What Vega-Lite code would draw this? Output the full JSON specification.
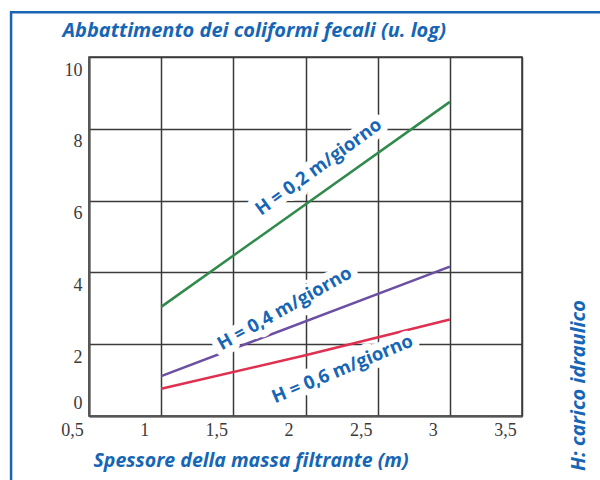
{
  "$schema": "https://vega.github.io/schema/vega-lite/v6.json",
  "width": 433,
  "height": 359,
  "autosize": {"type": "none"},
  "padding": {"left": 89, "top": 57, "right": 78, "bottom": 64},
  "background": "white",
  "config": {
    "view": {"stroke": "#3a3a3a", "strokeWidth": 1.5}
  },
  "datasets": {
    "lines": [
      {"serie": "H = 0,2", "x": 1.0, "y": 3.04},
      {"serie": "H = 0,2", "x": 3.0, "y": 8.75},
      {"serie": "H = 0,4", "x": 1.0, "y": 1.11},
      {"serie": "H = 0,4", "x": 3.0, "y": 4.16},
      {"serie": "H = 0,6", "x": 1.0, "y": 0.76},
      {"serie": "H = 0,6", "x": 2.0, "y": 1.69},
      {"serie": "H = 0,6", "x": 3.0, "y": 2.69}
    ],
    "labels": [
      {"testo": "H = 0,2 m/giorno", "x": 2.09, "y": 6.94},
      {"testo": "H = 0,4 m/giorno", "x": 1.855, "y": 3.0},
      {"testo": "H = 0,6 m/giorno", "x": 2.255, "y": 1.31}
    ]
  },
  "layer": [
    {
      "data": {"name": "lines"},
      "mark": {"type": "line", "strokeWidth": 2.5},
      "encoding": {
        "x": {
          "field": "x",
          "type": "quantitative",
          "scale": {"domain": [0.5, 3.5], "nice": false, "zero": false},
          "axis": {
            "values": [0.5, 1, 1.5, 2, 2.5, 3, 3.5],
            "grid": true,
            "gridColor": "#3a3a3a",
            "gridWidth": 1.5,
            "gridOpacity": 1,
            "ticks": false,
            "domain": true,
            "domainColor": "#555555",
            "domainWidth": 2,
            "labelFont": "Liberation Serif",
            "labelFontSize": 18,
            "labelColor": "#3a3a3a",
            "labelExpr": "replace(toString(datum.value), '.', ',')",
            "labelOffset": -17,
            "labelPadding": 5,
            "labelFlush": false,
            "labelOverlap": false,
            "labelBound": false,
            "title": "Spessore della massa filtrante (m)",
            "titleFont": "Open Sans",
            "titleFontSize": 19.5,
            "titleFontWeight": "bold",
            "titleFontStyle": "italic",
            "titleColor": "#1666b5",
            "titleX": 4,
            "titleY": 44,
            "titleAlign": "left",
            "titleBaseline": "middle"
          }
        },
        "y": {
          "field": "y",
          "type": "quantitative",
          "scale": {"domain": [0, 10], "nice": false, "zero": false},
          "axis": {
            "values": [0, 2, 4, 6, 8, 10],
            "grid": true,
            "gridColor": "#3a3a3a",
            "gridWidth": 1.5,
            "gridOpacity": 1,
            "ticks": false,
            "domain": true,
            "domainColor": "#555555",
            "domainWidth": 2,
            "labelFont": "Liberation Serif",
            "labelFontSize": 18,
            "labelColor": "#3a3a3a",
            "labelPadding": 7,
            "labelFlush": false,
            "labelOverlap": false,
            "labelBound": false,
            "labelOffset": {"condition": {"test": "datum.value === 0", "value": -13}, "value": 13},
            "title": "Abbattimento dei coliformi fecali (u. log)",
            "titleFont": "Open Sans",
            "titleFontSize": 20,
            "titleFontWeight": "bold",
            "titleFontStyle": "italic",
            "titleColor": "#1666b5",
            "titleAngle": 0,
            "titleX": -27,
            "titleY": -27,
            "titleAlign": "left",
            "titleBaseline": "middle"
          }
        },
        "color": {
          "field": "serie",
          "type": "nominal",
          "scale": {
            "domain": ["H = 0,2", "H = 0,4", "H = 0,6"],
            "range": ["#2f8a4c", "#6b4fa2", "#e0304f"]
          },
          "legend": null
        }
      }
    },
    {
      "data": {"name": "labels"},
      "mark": {
        "type": "text",
        "font": "Open Sans",
        "fontSize": 18.5,
        "fontWeight": "bold",
        "fill": "white",
        "stroke": "white",
        "strokeWidth": 14,
        "strokeJoin": "round",
        "align": "center",
        "baseline": "middle"
      },
      "encoding": {
        "x": {"field": "x", "type": "quantitative"},
        "y": {
          "field": "y",
          "type": "quantitative",
          "axis": {
            "orient": "right",
            "grid": false,
            "ticks": false,
            "labels": false,
            "domain": false,
            "title": "H: carico idraulico",
            "titleFont": "Open Sans",
            "titleFontSize": 20,
            "titleFontWeight": "bold",
            "titleFontStyle": "italic",
            "titleColor": "#1666b5",
            "titleAngle": 270,
            "titleX": 56,
            "titleY": 328,
            "titleAlign": "center",
            "titleBaseline": "middle"
          }
        },
        "text": {"field": "testo"},
        "angle": {
          "field": "testo",
          "type": "nominal",
          "scale": {
            "domain": ["H = 0,2 m/giorno", "H = 0,4 m/giorno", "H = 0,6 m/giorno"],
            "range": [-36, -22.6, -16.4]
          },
          "legend": null
        }
      }
    },
    {
      "data": {"name": "labels"},
      "mark": {
        "type": "text",
        "font": "Open Sans",
        "fontSize": 18.5,
        "fontWeight": "bold",
        "fill": "#1666b5",
        "align": "center",
        "baseline": "middle"
      },
      "encoding": {
        "x": {"field": "x", "type": "quantitative"},
        "y": {"field": "y", "type": "quantitative", "axis": null},
        "text": {"field": "testo"},
        "angle": {
          "field": "testo",
          "type": "nominal",
          "scale": {
            "domain": ["H = 0,2 m/giorno", "H = 0,4 m/giorno", "H = 0,6 m/giorno"],
            "range": [-36, -22.6, -16.4]
          },
          "legend": null
        }
      }
    },
    {
      "data": {"values": [{}]},
      "mark": {"type": "rect", "fill": null, "stroke": "#1a64b4", "strokeWidth": 2.5, "clip": false},
      "encoding": {
        "x": {"datum": -0.04, "type": "quantitative"},
        "x2": {"datum": 4.3},
        "y": {"datum": 11.25, "type": "quantitative", "axis": null},
        "y2": {"datum": -2.6}
      }
    }
  ],
  "resolve": {"axis": {"y": "independent"}}
}
